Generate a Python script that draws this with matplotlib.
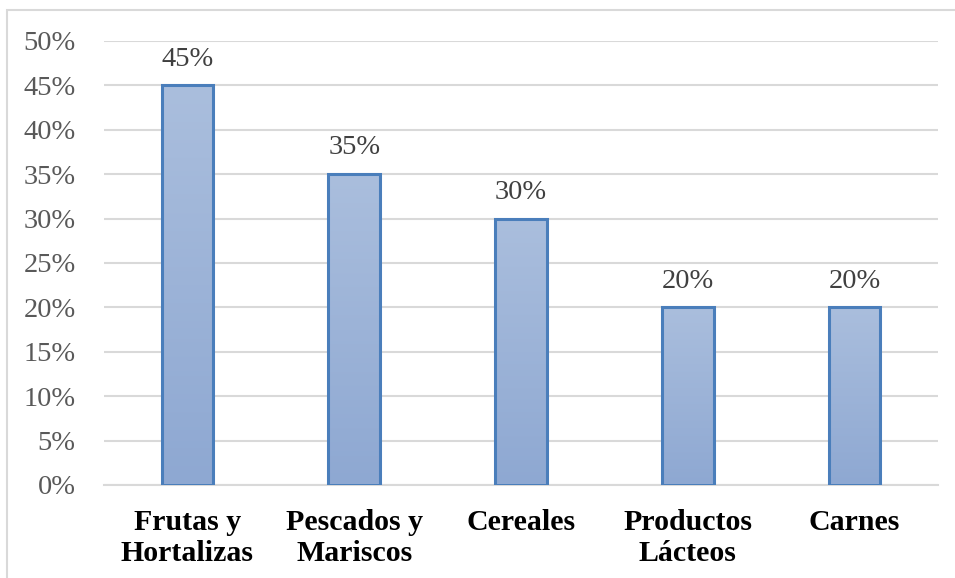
import numpy as np
import matplotlib
matplotlib.use('Agg')
from matplotlib import pyplot as plt
from matplotlib.patches import Rectangle
from matplotlib.colors import LinearSegmentedColormap
from matplotlib.ticker import FuncFormatter

categories = ['Frutas y\nHortalizas', 'Pescados y\nMariscos', 'Cereales', 'Productos\nLácteos', 'Carnes']
values = [45, 35, 30, 20, 20]
yticks = [0, 5, 10, 15, 20, 25, 30, 35, 40, 45, 50]

plt.rcParams['font.family'] = ['Liberation Serif', 'DejaVu Serif']

fig = plt.figure(figsize=(9.55, 5.78), dpi=100)
ax = fig.add_axes([104 / 955, 1 - 485 / 578, (938 - 104) / 955, (485 - 41) / 578])

# light frame around the whole chart
fig.patches.append(Rectangle((7 / 955, -0.05), 1.1, 1 - 10 / 578 + 0.05, transform=fig.transFigure,
                             fill=False, edgecolor='#D9D9D9', linewidth=1.5, zorder=0))

x = np.arange(len(categories))
width = 0.31
bars = ax.bar(x, values, width=width, color='none', edgecolor='#4A7EBB', linewidth=2.2, zorder=3)

# vertical gradient fill for each bar
cmap = LinearSegmentedColormap.from_list('grad', ['#8EA8D2', '#AABEDD'])
grad = np.linspace(0, 1, 256).reshape(-1, 1)
for b in bars:
    bx, by = b.get_x(), b.get_y()
    im = ax.imshow(grad, cmap=cmap, origin='lower', aspect='auto',
                   extent=(bx, bx + b.get_width(), by, by + b.get_height()), zorder=2)
    im.set_clip_path(b)

for xi, v in zip(x, values):
    ax.annotate(f'{v}%', (xi, v), xytext=(0, 10), textcoords='offset points',
                ha='center', va='bottom', fontsize=20.5, color='#404040')

ax.set_xlim(-0.5, len(categories) - 0.5)
ax.set_ylim(0, 50)
ax.set_yticks(yticks)
ax.yaxis.set_major_formatter(FuncFormatter(lambda v, p: f'{v:.0f}%'))
ax.set_xticks(x)
ax.set_xticklabels(categories, fontweight='bold', fontsize=21.5, linespacing=1.2)
ax.tick_params(axis='y', length=0, pad=20.5, labelsize=20.5, labelcolor='#595959')
ax.tick_params(axis='x', length=0, pad=17, labelcolor='black')

ax.grid(axis='y', color='#D9D9D9', linewidth=1.5, zorder=0)
ax.set_axisbelow(True)
for s in ['top', 'right', 'left']:
    ax.spines[s].set_visible(False)
ax.spines['bottom'].set_color('#D9D9D9')
ax.spines['bottom'].set_linewidth(1.5)

fig.savefig('out.png', dpi=100)
